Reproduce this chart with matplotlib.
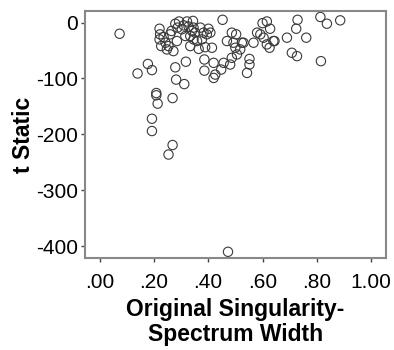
import matplotlib.pyplot as plt
from matplotlib.ticker import FuncFormatter

# singularity-spectrum width vs t statistic
width = [0.074, 0.140, 0.178, 0.193, 0.209, 0.209, 0.214, 0.193, 0.193, 0.269,
         0.279, 0.282, 0.312, 0.318, 0.269, 0.254, 0.473,
         0.221, 0.223, 0.221, 0.227, 0.254, 0.260, 0.236, 0.279, 0.287, 0.293,
         0.322, 0.344, 0.328, 0.340, 0.334, 0.352, 0.359, 0.346, 0.285, 0.272,
         0.248, 0.334, 0.371, 0.383, 0.401, 0.395, 0.377, 0.365, 0.389, 0.414,
         0.408, 0.453, 0.386, 0.386, 0.420, 0.420, 0.426, 0.448, 0.457, 0.469,
         0.487, 0.503, 0.493, 0.500, 0.518, 0.530, 0.506, 0.487, 0.481, 0.543,
         0.552, 0.552, 0.567, 0.580, 0.592, 0.604, 0.616, 0.628, 0.616, 0.626,
         0.644, 0.690, 0.708, 0.727, 0.724, 0.729, 0.761, 0.813, 0.837, 0.886,
         0.815, 0.303, 0.316, 0.346, 0.524, 0.640, 0.600, 0.310, 0.265, 0.243]
t_static = [-20, -91, -74, -85, -126, -130, -145, -172, -194, -135,
            -80, -102, -110, -70, -219, -236, -410,
            -11, -21, -30, -42, -42, -21, -26, -2, -9, 2,
            2, 3, -7, -15, -24, -18, -33, -30, -33, -51,
            -48, -42, -9, -18, -11, -21, -30, -47, -44, -45,
            -18, 5, -66, -86, -72, -99, -93, -84, -72, -33,
            -18, -21, -36, -45, -48, -36, -57, -63, -75, -90,
            -75, -65, -36, -18, -21, -27, 2, -11, -39, -45,
            -33, -27, -54, -60, -11, 5, -27, 10, -2, 4,
            -69, -12, -24, -9, -36, -33, -1, -5, -15, -36]

xticks = [0.0, 0.2, 0.4, 0.6, 0.8, 1.0]
yticks = [0, -100, -200, -300, -400]

plt.rcParams['font.family'] = ['Liberation Sans', 'DejaVu Sans']
plt.rcParams['axes.unicode_minus'] = False

fig = plt.figure(figsize=(3.94, 3.5), dpi=100)
ax = fig.add_axes([0.216, 0.263, 0.764, 0.706])

ax.scatter(width, t_static, s=45, facecolors='none', edgecolors='#3a3a3a', linewidths=0.8)

ax.set_xlim(-0.053, 1.055)
ax.set_ylim(-421, 21)
ax.set_xticks(xticks)
ax.set_yticks(yticks)
ax.xaxis.set_major_formatter(FuncFormatter(lambda v, p: ('%.2f' % v).replace('0.', '.') if v < 1 else '%.2f' % v))
ax.tick_params(direction='out', length=3, width=1, color='#444444', labelsize=15, pad=2)
ax.tick_params(axis='x', pad=8)

for s in ax.spines.values():
    s.set_color('#888888')
    s.set_linewidth(1.5)

ax.set_ylabel('t Static', fontsize=16.5, fontweight='bold', labelpad=1)
ax.set_xlabel('Original Singularity-\nSpectrum Width', fontsize=16.5, fontweight='bold', labelpad=4, linespacing=1.1)

fig.savefig('out.png', dpi=100)
